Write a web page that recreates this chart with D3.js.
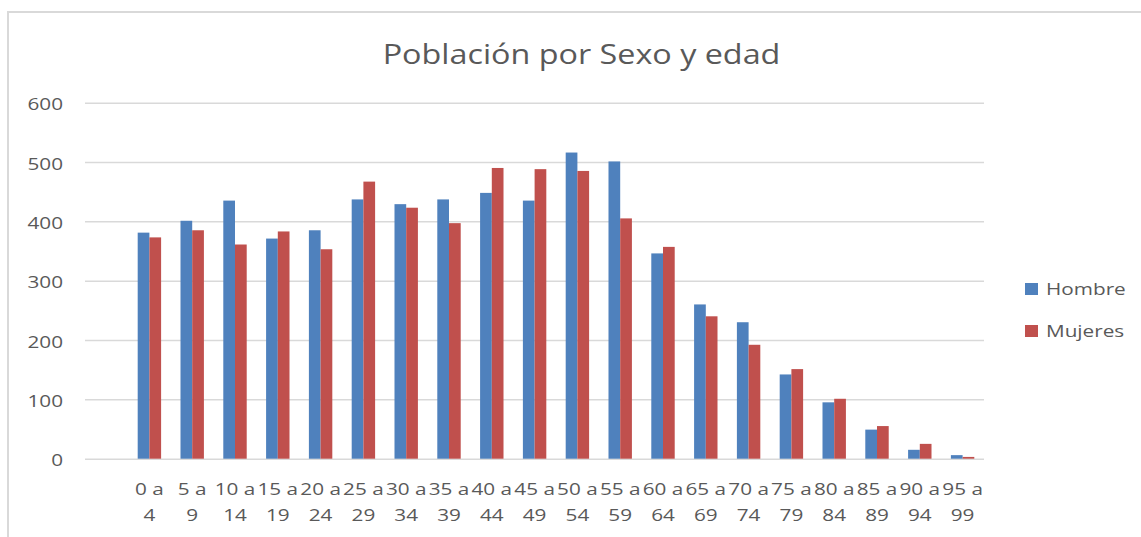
<!DOCTYPE html>
<html>
<head>
<meta charset="utf-8">
<script src="https://cdn.jsdelivr.net/npm/d3@7"></script>
<style>
  body { margin: 0; background: #fff; }
  text { font-family: "Open Sans", sans-serif; fill: #595959; }
</style>
</head>
<body>
<div id="chart"></div>
<script>
// data
var categories = ["0 a 4", "5 a 9", "10 a 14", "15 a 19", "20 a 24", "25 a 29", "30 a 34",
  "35 a 39", "40 a 44", "45 a 49", "50 a 54", "55 a 59", "60 a 64", "65 a 69",
  "70 a 74", "75 a 79", "80 a 84", "85 a 89", "90 a 94", "95 a 99"];
var hombre = [381, 401, 435, 371, 385, 437, 429, 437, 448, 435, 516, 501, 346, 260, 230, 142, 95, 49, 15, 6];
var mujeres = [373, 385, 361, 383, 353, 467, 423, 397, 490, 488, 485, 405, 357, 240, 192, 151, 101, 55, 25, 3];
var seriesNames = ["Hombre", "Mujeres"];
var yTicks = [0, 100, 200, 300, 400, 500, 600];

var blue = "#4f81bd";
var red = "#c0504d";
var gridColor = "#d9d9d9";
var sx = 1.22; // picture text is stretched sideways

var W = 1141, H = 537;
var svg = d3.select("#chart").append("svg")
    .attr("width", W)
    .attr("height", H);

// chart area border
svg.append("rect")
    .attr("x", 8).attr("y", 12)
    .attr("width", W + 20).attr("height", H + 20)
    .attr("fill", "none")
    .attr("stroke", gridColor)
    .attr("stroke-width", 2);

var x = d3.scaleBand()
    .domain(categories)
    .range([128, 984])
    .paddingInner(0.453)
    .paddingOuter(0.2265);
var x1 = d3.scaleBand()
    .domain(seriesNames)
    .range([0, x.bandwidth()]);
var y = d3.scaleLinear()
    .domain([0, 600])
    .range([458.7, 102.7]);

function stretchText(sel, tx, ty) {
    return sel.attr("transform", "translate(" + tx + "," + ty + ") scale(" + sx + ",1)");
}

// gridlines + y labels
var yAxis = d3.axisLeft(y).tickValues(yTicks).tickSize(-(984 - 85)).tickPadding(0);
var gy = svg.append("g")
    .attr("transform", "translate(85,0)")
    .call(yAxis);
gy.select(".domain").remove();
gy.selectAll(".tick line").attr("stroke", gridColor).attr("stroke-width", 1.5);
gy.selectAll(".tick text").remove();
gy.selectAll(".tick").append("text")
    .attr("text-anchor", "end")
    .attr("transform", "translate(-22,7) scale(" + sx + ",1)")
    .style("font-size", "17px")
    .text(function(d) { return d; });

// bars
var data = categories.map(function(c, i) {
    return { cat: c, vals: [{ k: "Hombre", v: hombre[i] }, { k: "Mujeres", v: mujeres[i] }] };
});
var groups = svg.append("g").selectAll("g")
    .data(data)
    .enter().append("g")
    .attr("transform", function(d) { return "translate(" + x(d.cat) + ",0)"; });
groups.selectAll("rect")
    .data(function(d) { return d.vals; })
    .enter().append("rect")
    .attr("x", function(d) { return x1(d.k); })
    .attr("width", x1.bandwidth())
    .attr("y", function(d) { return y(d.v); })
    .attr("height", function(d) { return y(0) - y(d.v); })
    .attr("fill", function(d) { return d.k === "Hombre" ? blue : red; });

// category labels, wrapped on two lines like the original
var labels = svg.append("g").selectAll("text")
    .data(categories)
    .enter().append("text")
    .attr("text-anchor", "middle")
    .style("font-size", "17px")
    .each(function(d) {
        stretchText(d3.select(this), x(d) + x.bandwidth() / 2, 495);
    });
labels.append("tspan")
    .attr("x", 0).attr("y", 0)
    .text(function(d) { var p = d.split(" "); return p[0] + " " + p[1]; });
labels.append("tspan")
    .attr("x", 0).attr("y", 26.5)
    .text(function(d) { return d.split(" ")[2]; });

// title
var title = svg.append("text")
    .attr("text-anchor", "middle")
    .style("font-size", "26.5px")
    .text("Población por Sexo y edad");
stretchText(title, 581.5, 64);

// legend
var legend = svg.append("g").selectAll("g")
    .data(seriesNames)
    .enter().append("g")
    .attr("transform", function(d, i) { return "translate(1025," + (283 + i * 42) + ")"; });
legend.append("rect")
    .attr("width", 13).attr("height", 12)
    .attr("fill", function(d) { return d === "Hombre" ? blue : red; });
legend.append("text")
    .attr("transform", "translate(21,12) scale(" + sx + ",1)")
    .style("font-size", "17px")
    .text(function(d) { return d; });
</script>
</body>
</html>
